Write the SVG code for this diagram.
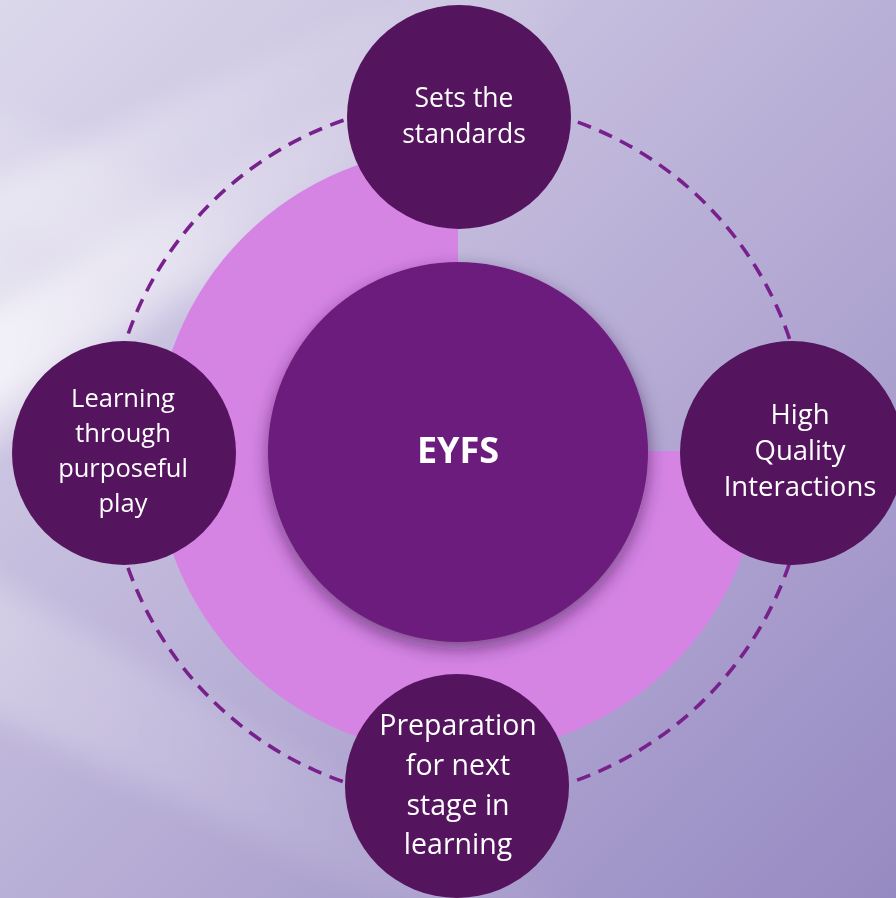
<svg xmlns="http://www.w3.org/2000/svg" width="896" height="898" viewBox="0 0 896 898">
  <defs>
    <linearGradient id="bg" x1="0" y1="0" x2="1" y2="1">
      <stop offset="0" stop-color="#DCD8EB"/>
      <stop offset="0.45" stop-color="#BDB4D9"/>
      <stop offset="1" stop-color="#968AC2"/>
    </linearGradient>
    <linearGradient id="streak" x1="0" y1="0" x2="1" y2="0">
      <stop offset="0" stop-color="#FFFFFF" stop-opacity="0.75"/>
      <stop offset="0.5" stop-color="#FFFFFF" stop-opacity="0.25"/>
      <stop offset="1" stop-color="#FFFFFF" stop-opacity="0"/>
    </linearGradient>
    <filter id="blur" x="-20%" y="-20%" width="140%" height="140%">
      <feGaussianBlur stdDeviation="14"/>
    </filter>
    <filter id="shadow" x="-20%" y="-20%" width="140%" height="140%">
      <feDropShadow dx="0" dy="7" stdDeviation="9" flood-color="#2E0A3C" flood-opacity="0.55"/>
    </filter>
    <style>
      .sat { fill: #54145E; }
      .lbl { font-family: "Comic Sans MS", "Open Sans", "DejaVu Sans", sans-serif; fill: #FFFFFF; text-anchor: middle; }
      .dash { fill: none; stroke: #78208C; stroke-width: 3.6; stroke-dasharray: 14 9; }
    </style>
  </defs>

  <g id="background">
    <rect x="0" y="0" width="896" height="898" fill="url(#bg)"/>
    <g filter="url(#blur)">
      <polygon points="-40,200 520,-60 620,-20 -40,470" fill="url(#streak)" opacity="0.6"/>
      <polygon points="-40,330 420,60 460,110 -40,430" fill="url(#streak)" opacity="0.8"/>
      <polygon points="-40,560 700,980 560,980 -40,700" fill="url(#streak)" opacity="0.35"/>
      <polygon points="-40,90 500,360 480,420 -40,200" fill="url(#streak)" opacity="0.25"/>
    </g>
  </g>

  <g id="ring">
    <path d="M458,451 L458,148 A303,303 0 1 0 761,451 Z" fill="#D584E4"/>
  </g>

  <g id="connectors">
    <circle class="dash" cx="458" cy="451" r="350"/>
  </g>

  <g id="node-eyfs">
    <circle cx="458" cy="452" r="190" fill="#6C1B7B" filter="url(#shadow)"/>
    <text class="lbl" x="458" y="463" font-size="36" font-weight="bold">EYFS</text>
  </g>

  <g id="node-standards">
    <circle class="sat" cx="459" cy="117" r="112"/>
    <text class="lbl" x="464" y="107" font-size="26.5">Sets the</text>
    <text class="lbl" x="464" y="143" font-size="26.5">standards</text>
  </g>

  <g id="node-play">
    <circle class="sat" cx="124" cy="453" r="112"/>
    <text class="lbl" x="123" y="407" font-size="25.5">Learning</text>
    <text class="lbl" x="123" y="442" font-size="25.5">through</text>
    <text class="lbl" x="123" y="477" font-size="25.5">purposeful</text>
    <text class="lbl" x="123" y="512" font-size="25.5">play</text>
  </g>

  <g id="node-interactions">
    <circle class="sat" cx="792" cy="453" r="112"/>
    <text class="lbl" x="800" y="424" font-size="27.5">High</text>
    <text class="lbl" x="800" y="460" font-size="27.5">Quality</text>
    <text class="lbl" x="800" y="496" font-size="27.5">Interactions</text>
  </g>

  <g id="node-preparation">
    <circle class="sat" cx="457" cy="786" r="112"/>
    <text class="lbl" x="458" y="735" font-size="28.5">Preparation</text>
    <text class="lbl" x="458" y="775" font-size="28.5">for next</text>
    <text class="lbl" x="458" y="815" font-size="28.5">stage in</text>
    <text class="lbl" x="458" y="854" font-size="28.5">learning</text>
  </g>
</svg>
